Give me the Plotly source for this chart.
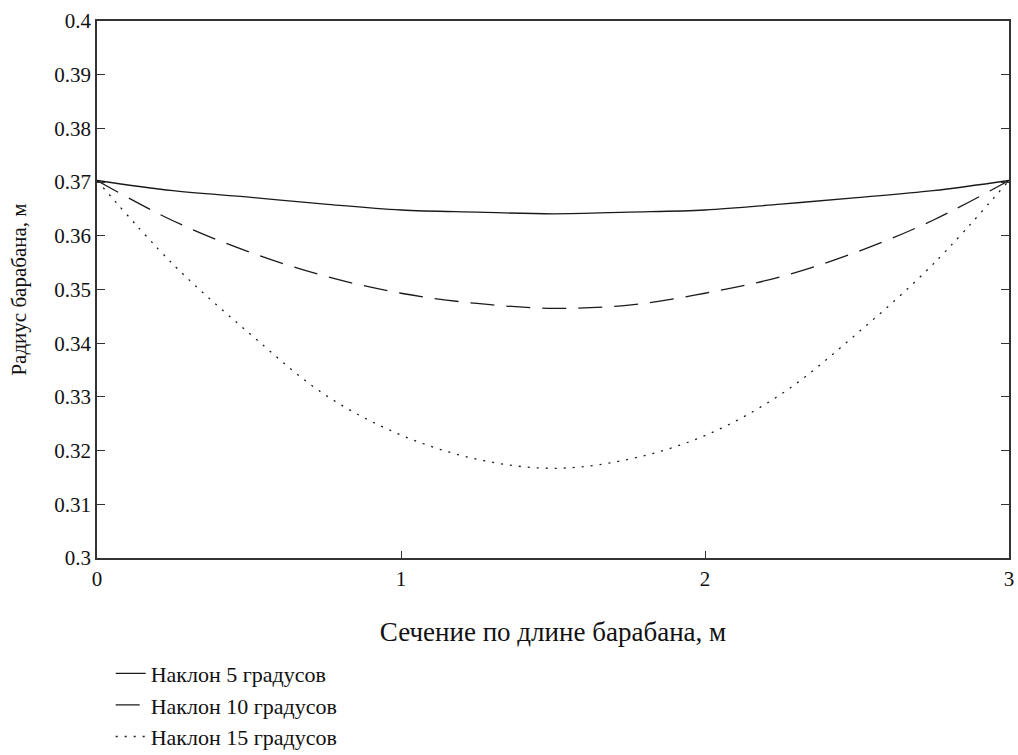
import plotly.graph_objects as go

# Section along drum length, m
x_vals = [0, 0.25, 0.5, 0.75, 1.0, 1.25, 1.5, 1.75, 2.0, 2.25, 2.5, 2.75, 3.0]

# Drum radius, m
r_5deg = [0.3703, 0.3684, 0.3672, 0.3659, 0.3648, 0.3644, 0.3641, 0.3644, 0.3648, 0.3659, 0.3671, 0.3684, 0.3703]
r_10deg = [0.3703, 0.3628, 0.3570, 0.3525, 0.3493, 0.3474, 0.3465, 0.3471, 0.3493, 0.3524, 0.3570, 0.3629, 0.3703]
r_15deg = [0.3703, 0.3547, 0.3419, 0.3304, 0.3229, 0.3184, 0.3167, 0.3184, 0.3228, 0.3305, 0.3418, 0.3547, 0.3703]

names = ["Наклон 5 градусов", "Наклон 10 градусов", "Наклон 15 градусов"]

y_tickvals = [0.30, 0.31, 0.32, 0.33, 0.34, 0.35, 0.36, 0.37, 0.38, 0.39, 0.40]
y_ticktext = ["0.3", "0.31", "0.32", "0.33", "0.34", "0.35", "0.36", "0.37", "0.38", "0.39", "0.4"]
x_tickvals = [0, 1, 2, 3]
x_ticktext = ["0", "1", "2", "3"]

FONT = "Liberation Serif"

fig = go.Figure()
series = [(r_5deg, "solid"), (r_10deg, "24px,12px"), (r_15deg, "2px,7px")]
for i, ((ys, dash), name) in enumerate(zip(series, names)):
    fig.add_trace(go.Scatter(
        x=x_vals, y=ys, mode="lines", name=name, legendgroup=f"g{i}",
        line=dict(color="#1a1a1a", width=1.3, dash=dash, shape="spline", smoothing=1.0),
    ))

fig.update_layout(
    width=1018, height=755,
    margin=dict(l=97, r=9, t=21, b=197, autoexpand=False),
    paper_bgcolor="white", plot_bgcolor="white",
    font=dict(family=FONT, color="#111", size=21),
    showlegend=True,
    legend=dict(
        x=0.015, xanchor="left", y=-0.176, yanchor="top",
        font=dict(family=FONT, size=22, color="#111"),
        tracegroupgap=0, bgcolor="rgba(0,0,0,0)",
    ),
    xaxis=dict(
        range=[0, 3], tickmode="array", tickvals=x_tickvals, ticktext=x_ticktext,
        automargin=False,
        showgrid=False, zeroline=False, showline=True, linecolor="#333", linewidth=1.5,
        mirror=True, ticks="inside", ticklen=7, tickcolor="#333", tickwidth=1.3,
        ticklabelstandoff=1,
        tickfont=dict(family=FONT, size=21, color="#111"),
        title=dict(text="Сечение по длине барабана, м", font=dict(family=FONT, size=27, color="#111"), standoff=32),
    ),
    yaxis=dict(
        range=[0.3, 0.4], tickmode="array", tickvals=y_tickvals, ticktext=y_ticktext,
        automargin=False,
        showgrid=False, zeroline=False, showline=True, linecolor="#333", linewidth=1.5,
        mirror="ticks", ticks="inside", ticklen=8, tickcolor="#333", tickwidth=1.3,
        tickfont=dict(family=FONT, size=21, color="#111"),
        title=dict(text="Радиус барабана, м", font=dict(family=FONT, size=21, color="#111"), standoff=22),
    ),
)

fig.write_html(
    "out.html",
    config={"displayModeBar": False},
    post_script="document.body.style.margin='0';document.body.style.overflow='hidden';",
)
